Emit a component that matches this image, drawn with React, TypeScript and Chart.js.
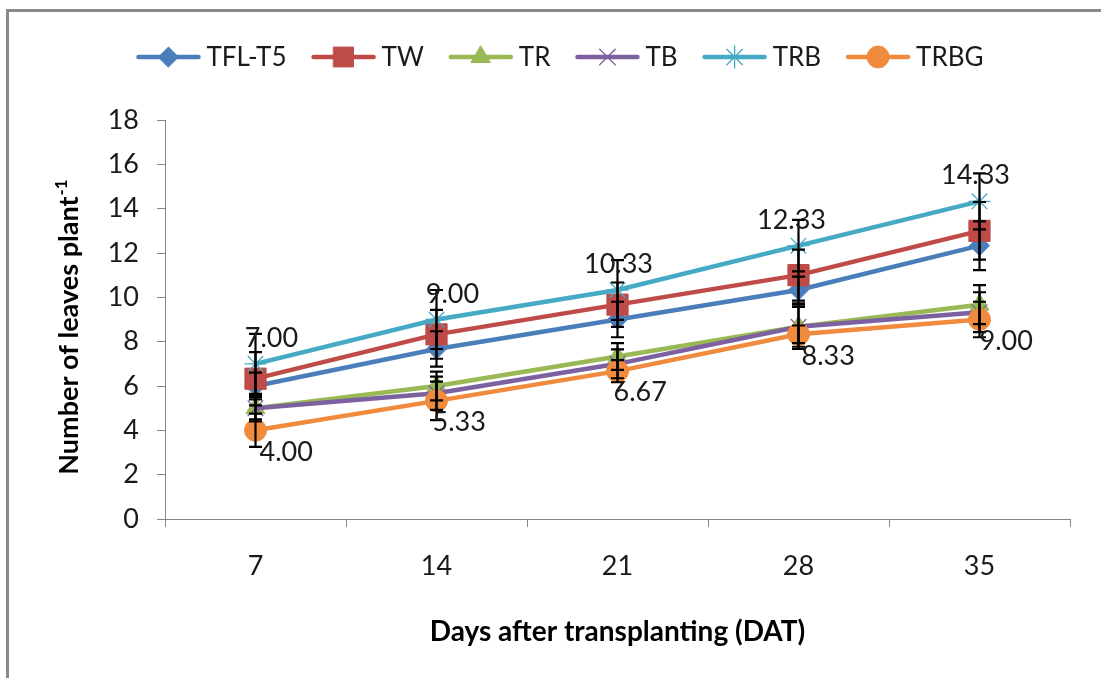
import React, { useEffect, useRef } from "react";
import { Chart, registerables } from "chart.js";
import { drawPoint } from "chart.js/helpers";

Chart.register(...registerables);

const categories = ["7", "14", "21", "28", "35"];
const seriesNames = ["TFL-T5", "TW", "TR", "TB", "TRB", "TRBG"];

const tflT5 = [6.0, 7.67, 9.0, 10.33, 12.33];
const tw = [6.33, 8.33, 9.67, 11.0, 13.0];
const tr = [5.0, 6.0, 7.33, 8.67, 9.67];
const tb = [5.0, 5.67, 7.0, 8.67, 9.33];
const trb = [7.0, 9.0, 10.33, 12.33, 14.33];
const trbg = [4.0, 5.33, 6.67, 8.33, 9.0];

const tflT5Err = [0.6, 0.8, 0.8, 0.6, 1.1];
const twErr = [1.2, 1.1, 1.0, 1.15, 1.3];
const trErr = [0.6, 0.65, 0.6, 1.0, 0.88];
const tbErr = [0.5, 0.75, 0.65, 0.9, 0.9];
const trbErr = [1.35, 1.33, 1.35, 1.16, 1.26];
const trbgErr = [0.75, 0.87, 0.5, 0.4, 0.8];

const yMin = 0;
const yMax = 18;
const yStep = 2;

const xTitle = "Days after transplanting (DAT)";
const yTitleMain = "Number of leaves plant";
const yTitleSup = "-1";

const seriesValues = [tflT5, tw, tr, tb, trb, trbg];
const seriesErrors = [tflT5Err, twErr, trErr, tbErr, trbErr, trbgErr];

const colors = ["#4A7EBB", "#BE4B48", "#98B954", "#7D60A0", "#46AAC5", "#F08A3C"];
const pointStyles = ["rectRot", "rect", "triangle", "crossRot", "star", "circle"];
const pointRadii = [10, 15, 11, 11, 11, 11];
const pointBorderWidths = [1, 1, 1, 1.3, 1.3, 1];

// label nudges (style only), in px
const topLabelDx = [16, 16, 1, -7, -4];
const bottomLabelDx = [4, -4, -4, 3, 0];

const FONT = "Lato, 'Open Sans', 'DejaVu Sans', sans-serif";

const errorBarsPlugin = {
  id: "errorBars",
  afterDatasetsDraw(chart: any) {
    const ctx = chart.ctx;
    const yScale = chart.scales.y;
    ctx.save();
    ctx.strokeStyle = "#000";
    ctx.lineWidth = 2.2;
    seriesValues.forEach((vals, i) => {
      const meta = chart.getDatasetMeta(i);
      vals.forEach((v, j) => {
        const el = meta.data[j];
        if (!el) return;
        const x = el.x;
        const e = seriesErrors[i][j];
        const yTop = yScale.getPixelForValue(v + e);
        const yBot = yScale.getPixelForValue(v - e);
        ctx.beginPath();
        ctx.moveTo(x, yTop);
        ctx.lineTo(x, yBot);
        ctx.moveTo(x - 6.5, yTop);
        ctx.lineTo(x + 6.5, yTop);
        ctx.moveTo(x - 6.5, yBot);
        ctx.lineTo(x + 6.5, yBot);
        ctx.stroke();
      });
    });
    ctx.restore();
  },
};

const dataLabelsPlugin = {
  id: "dataLabelsCustom",
  afterDatasetsDraw(chart: any) {
    const ctx = chart.ctx;
    ctx.save();
    ctx.font = `27px ${FONT}`;
    ctx.fillStyle = "#1a1a1a";
    const top = chart.getDatasetMeta(4);
    trb.forEach((v, j) => {
      const el = top.data[j];
      ctx.textAlign = "center";
      ctx.textBaseline = "alphabetic";
      ctx.fillText(v.toFixed(2), el.x + topLabelDx[j], el.y - 17);
    });
    const bot = chart.getDatasetMeta(5);
    trbg.forEach((v, j) => {
      const el = bot.data[j];
      ctx.textAlign = "left";
      ctx.textBaseline = "top";
      ctx.fillText(v.toFixed(2), el.x + bottomLabelDx[j], el.y + 8);
    });
    ctx.restore();
  },
};

const legendPlugin = {
  id: "customLegend",
  afterDraw(chart: any) {
    const ctx = chart.ctx;
    ctx.save();
    ctx.font = `26px ${FONT}`;
    const lineLen = 60;
    const gapLT = 8;
    const gapItem = 27;
    const widths = seriesNames.map((n) => ctx.measureText(n).width);
    const total =
      widths.reduce((a, b) => a + b, 0) + seriesNames.length * (lineLen + gapLT) + (seriesNames.length - 1) * gapItem;
    let x = 561 - total / 2;
    const y = 57;
    seriesNames.forEach((name, i) => {
      ctx.strokeStyle = colors[i];
      ctx.lineWidth = 4.5;
      ctx.lineCap = "round";
      ctx.beginPath();
      ctx.moveTo(x, y);
      ctx.lineTo(x + lineLen, y);
      ctx.stroke();
      ctx.fillStyle = colors[i];
      ctx.lineWidth = pointBorderWidths[i];
      drawPoint(
        ctx,
        { pointStyle: pointStyles[i], radius: Math.min(pointRadii[i], 14), rotation: 0, borderWidth: pointBorderWidths[i] } as any,
        x + lineLen / 2,
        y
      );
      ctx.fillStyle = "#1a1a1a";
      ctx.textAlign = "left";
      ctx.textBaseline = "middle";
      ctx.fillText(name, x + lineLen + gapLT, y + 1);
      x += lineLen + gapLT + widths[i] + gapItem;
    });
    ctx.restore();
  },
};

const yTitlePlugin = {
  id: "yTitleCustom",
  afterDraw(chart: any) {
    const ctx = chart.ctx;
    const area = chart.chartArea;
    ctx.save();
    ctx.translate(68, (area.top + area.bottom) / 2 + 8);
    ctx.rotate(-Math.PI / 2);
    ctx.font = `bold 27px ${FONT}`;
    const wMain = ctx.measureText(yTitleMain).width;
    ctx.font = `bold 17px ${FONT}`;
    const wSup = ctx.measureText(yTitleSup).width;
    const start = -(wMain + wSup) / 2;
    ctx.fillStyle = "#000";
    ctx.textAlign = "left";
    ctx.textBaseline = "alphabetic";
    ctx.font = `bold 27px ${FONT}`;
    ctx.fillText(yTitleMain, start, 10);
    ctx.font = `bold 17px ${FONT}`;
    ctx.fillText(yTitleSup, start + wMain + 1, -1);
    ctx.restore();
  },
};

export default function App() {
  const canvasRef = useRef<HTMLCanvasElement | null>(null);

  useEffect(() => {
    if (!canvasRef.current) return;
    const datasets = seriesNames.map((name, i) => ({
      label: name,
      data: seriesValues[i],
      borderColor: colors[i],
      backgroundColor: colors[i],
      borderWidth: 4.5,
      pointStyle: pointStyles[i],
      pointRadius: pointRadii[i],
      pointHoverRadius: pointRadii[i],
      pointBackgroundColor: colors[i],
      pointBorderColor: colors[i],
      pointBorderWidth: pointBorderWidths[i],
      tension: 0,
      fill: false,
      order: seriesNames.length - i,
    }));

    const chart = new Chart(canvasRef.current, {
      type: "line",
      data: { labels: categories, datasets },
      options: {
        animation: false,
        responsive: false,
        devicePixelRatio: 1,
        layout: { padding: { top: 120, right: 31, bottom: 0, left: 0 } },
        plugins: {
          legend: { display: false },
          tooltip: { enabled: false },
          title: { display: false },
        },
        scales: {
          x: {
            type: "category",
            offset: true,
            grid: {
              offset: true,
              drawOnChartArea: false,
              drawTicks: true,
              tickLength: 8,
              color: "#868686",
              lineWidth: 1,
            },
            border: { color: "#868686", width: 1 },
            ticks: {
              color: "#1a1a1a",
              font: { family: FONT, size: 27 },
              padding: 23,
            },
            title: {
              display: true,
              text: xTitle,
              color: "#000",
              font: { family: FONT, size: 28, weight: "bold" },
              padding: { top: 0, bottom: 29 },
            },
            afterFit: (s: any) => {
              s.height = 159;
            },
          },
          y: {
            min: yMin,
            max: yMax,
            ticks: {
              stepSize: yStep,
              color: "#1a1a1a",
              font: { family: FONT, size: 27 },
              padding: 18,
            },
            grid: {
              drawOnChartArea: false,
              drawTicks: true,
              tickLength: 8,
              color: "#868686",
              lineWidth: 1,
            },
            border: { color: "#868686", width: 1 },
            afterFit: (s: any) => {
              s.width = 165;
            },
          },
        },
      },
      plugins: [errorBarsPlugin, dataLabelsPlugin, legendPlugin, yTitlePlugin],
    });
    return () => chart.destroy();
  }, []);

  return (
    <div style={{ position: "fixed", left: 0, top: 0, width: "100vw", height: "100vh", overflow: "hidden", background: "#fff" }}>
      <div
        style={{
          position: "absolute",
          left: 6,
          top: 9,
          width: 3000,
          height: 3000,
          borderLeft: "3px solid #898989",
          borderTop: "3px solid #898989",
        }}
      />
      <canvas ref={canvasRef} width={1101} height={678} style={{ position: "absolute", left: 0, top: 0 }} />
    </div>
  );
}
